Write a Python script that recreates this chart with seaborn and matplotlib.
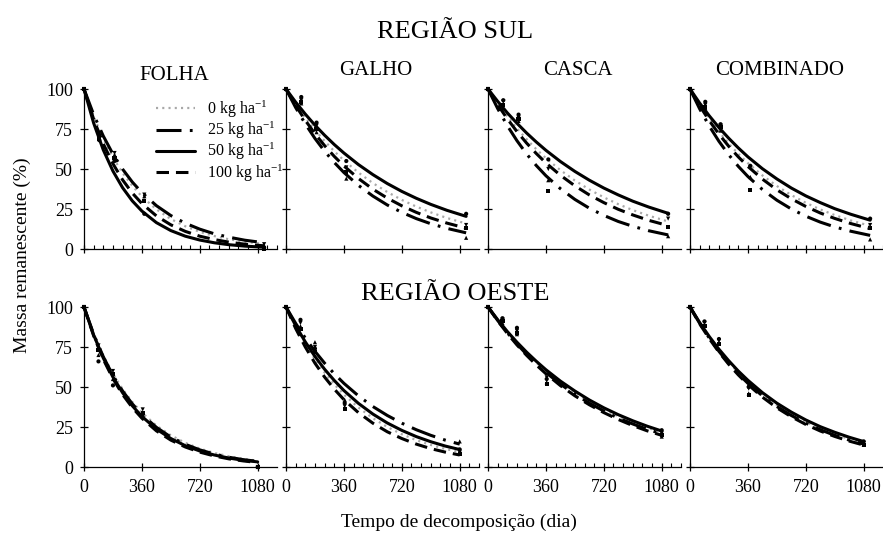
import numpy as np
import pandas as pd
import matplotlib
matplotlib.use("Agg")
import matplotlib.pyplot as plt
import matplotlib.transforms as mtransforms
from matplotlib.lines import Line2D
from matplotlib.ticker import MultipleLocator
import seaborn as sns

# ---------------- data ----------------
DOSES = ["0", "25", "50", "100"]
DOSE_LABELS = ["0 kg ha$^{-1}$", "25 kg ha$^{-1}$", "50 kg ha$^{-1}$", "100 kg ha$^{-1}$"]
COMPONENTS = ["FOLHA", "GALHO", "CASCA", "COMBINADO"]
REGIONS = ["REGIÃO SUL", "REGIÃO OESTE"]
X_TICKS = [0, 360, 720, 1080]
Y_TICKS = [0, 25, 50, 75, 100]

FIT_T_SUL = [0, 60, 120, 180, 240, 300, 360, 450, 540, 630, 720, 810, 900, 1000, 1120]
FIT_T_OESTE = [0, 60, 120, 180, 240, 300, 360, 450, 540, 630, 720, 810, 900, 990, 1080]
OBS_T_SUL = [0, 95, 190, 375, 1120]
OBS_T_OESTE = [0, 90, 180, 365, 1080]

# fitted curves, rows = 0, 25, 50, 100 kg/ha
SUL_FOLHA_FIT = [
    [100, 83.0, 68.9, 57.2, 47.5, 39.5, 32.8, 24.8, 18.7, 14.2, 10.7, 8.1, 6.1, 4.5, 3.1],
    [100, 84.0, 70.6, 59.3, 49.9, 41.9, 35.2, 27.1, 20.9, 16.1, 12.4, 9.5, 7.4, 5.5, 3.9],
    [100, 78.7, 61.9, 48.7, 38.3, 30.1, 23.7, 16.5, 11.5, 8.0, 5.6, 3.9, 2.7, 1.8, 1.1],
    [100, 81.1, 65.7, 53.3, 43.2, 35.0, 28.4, 20.7, 15.1, 11.0, 8.0, 5.9, 4.3, 3.0, 2.0],
]
SUL_GALHO_FIT = [
    [100, 90.6, 82.1, 74.4, 67.5, 61.1, 55.4, 47.8, 41.2, 35.6, 30.7, 26.5, 22.9, 19.4, 15.9],
    [100, 88.4, 78.2, 69.1, 61.1, 54.1, 47.8, 39.8, 33.1, 27.5, 22.9, 19.0, 15.8, 12.9, 10.1],
    [100, 91.8, 84.3, 77.4, 71.1, 65.3, 60.0, 52.8, 46.5, 40.9, 36.0, 31.7, 27.9, 24.2, 20.4],
    [100, 89.7, 80.4, 72.1, 64.6, 57.9, 51.9, 44.1, 37.4, 31.8, 27.0, 22.9, 19.4, 16.2, 13.0],
]
SUL_CASCA_FIT = [
    [100, 91.0, 82.8, 75.4, 68.6, 62.4, 56.8, 49.3, 42.8, 37.2, 32.3, 28.0, 24.3, 20.8, 17.2],
    [100, 87.8, 77.1, 67.7, 59.4, 52.2, 45.8, 37.7, 31.0, 25.5, 21.0, 17.2, 14.2, 11.4, 8.8],
    [100, 92.3, 85.1, 78.6, 72.5, 66.9, 61.7, 54.7, 48.5, 43.0, 38.1, 33.8, 29.9, 26.2, 22.3],
    [100, 90.2, 81.4, 73.4, 66.2, 59.7, 53.8, 46.1, 39.5, 33.8, 29.0, 24.8, 21.3, 17.9, 14.6],
]
SUL_COMB_FIT = [
    [100, 90.1, 81.3, 73.3, 66.0, 59.5, 53.7, 46.0, 39.4, 33.7, 28.9, 24.7, 21.2, 17.8, 14.5],
    [100, 87.6, 76.8, 67.3, 59.0, 51.7, 45.3, 37.2, 30.5, 25.0, 20.5, 16.8, 13.8, 11.1, 8.5],
    [100, 91.2, 83.2, 75.9, 69.3, 63.2, 57.6, 50.2, 43.8, 38.1, 33.2, 29.0, 25.2, 21.7, 18.0],
    [100, 89.5, 80.2, 71.8, 64.3, 57.6, 51.6, 43.7, 37.0, 31.4, 26.6, 22.5, 19.1, 15.9, 12.7],
]
OESTE_FOLHA_FIT = [
    [100, 83.5, 69.8, 58.3, 48.7, 40.7, 34.0, 25.9, 19.8, 15.1, 11.5, 8.8, 6.7, 5.1, 3.9],
    [100, 83.0, 68.9, 57.2, 47.5, 39.5, 32.8, 24.8, 18.7, 14.2, 10.7, 8.1, 6.1, 4.6, 3.5],
    [100, 82.5, 68.1, 56.2, 46.4, 38.3, 31.6, 23.7, 17.8, 13.3, 10.0, 7.5, 5.6, 4.2, 3.2],
    [100, 82.0, 67.3, 55.2, 45.3, 37.2, 30.5, 22.6, 16.8, 12.5, 9.3, 6.9, 5.1, 3.8, 2.8],
]
OESTE_GALHO_FIT = [
    [100, 87.6, 76.8, 67.3, 59.0, 51.7, 45.3, 37.2, 30.5, 25.0, 20.5, 16.8, 13.8, 11.3, 9.3],
    [100, 89.8, 80.6, 72.3, 64.9, 58.3, 52.3, 44.5, 37.8, 32.2, 27.4, 23.3, 19.8, 16.8, 14.3],
    [100, 88.4, 78.2, 69.1, 61.1, 54.1, 47.8, 39.8, 33.1, 27.5, 22.9, 19.0, 15.8, 13.1, 10.9],
    [100, 86.6, 75.0, 64.9, 56.2, 48.7, 42.1, 34.0, 27.4, 22.0, 17.8, 14.3, 11.5, 9.3, 7.5],
]
OESTE_CASCA_FIT = [
    [100, 91.8, 84.3, 77.4, 71.1, 65.3, 60.0, 52.8, 46.5, 40.9, 36.0, 31.7, 27.9, 24.5, 21.6],
    [100, 91.6, 83.9, 76.9, 70.4, 64.5, 59.1, 51.8, 45.5, 39.9, 35.0, 30.6, 26.9, 23.6, 20.7],
    [100, 92.1, 84.7, 78.0, 71.8, 66.1, 60.8, 53.7, 47.5, 41.9, 37.0, 32.7, 28.9, 25.5, 22.5],
    [100, 91.4, 83.5, 76.3, 69.8, 63.8, 58.3, 50.9, 44.5, 38.9, 34.0, 29.7, 25.9, 22.6, 19.8],
]
OESTE_COMB_FIT = [
    [100, 90.0, 81.0, 72.8, 65.5, 59.0, 53.1, 45.3, 38.7, 33.0, 28.2, 24.0, 20.5, 17.5, 14.9],
    [100, 89.8, 80.6, 72.3, 64.9, 58.3, 52.3, 44.5, 37.8, 32.2, 27.4, 23.3, 19.8, 16.8, 14.3],
    [100, 90.3, 81.5, 73.6, 66.5, 60.0, 54.2, 46.5, 39.9, 34.3, 29.4, 25.2, 21.7, 18.6, 15.9],
    [100, 89.5, 80.2, 71.8, 64.3, 57.6, 51.6, 43.7, 37.0, 31.4, 26.6, 22.5, 19.1, 16.2, 13.7],
]

# observed points, rows = 0, 25, 50, 100 kg/ha
SUL_FOLHA_OBS = [[100, 70, 60, 34, 3], [100, 72, 59, 33, 2], [100, 68, 55, 22, 1], [100, 69, 57, 30, 0]]
SUL_GALHO_OBS = [[100, 93, 77, 51, 15], [100, 91, 73, 44, 7], [100, 95, 79, 55, 22], [100, 92, 75, 48, 13]]
SUL_CASCA_OBS = [[100, 92, 82, 50, 19], [100, 88, 80, 43, 8], [100, 93, 84, 56, 22], [100, 90, 81, 36, 14]]
SUL_COMB_OBS = [[100, 90, 77, 51, 15], [100, 88, 74, 45, 6], [100, 92, 78, 52, 19], [100, 89, 76, 37, 13]]
OESTE_FOLHA_OBS = [[100, 76, 60, 36, 0], [100, 70, 55, 33, 0], [100, 66, 51, 31, 0], [100, 73, 58, 34, 0]]
OESTE_GALHO_OBS = [[100, 90, 75, 38, 9], [100, 88, 78, 42, 16], [100, 92, 74, 40, 11], [100, 86, 72, 36, 8]]
OESTE_CASCA_OBS = [[100, 92, 85, 56, 21], [100, 90, 83, 53, 19], [100, 93, 87, 55, 23], [100, 91, 84, 52, 20]]
OESTE_COMB_OBS = [[100, 90, 79, 49, 15], [100, 89, 78, 46, 14], [100, 91, 80, 50, 16], [100, 88, 77, 45, 14]]

FITS = [[SUL_FOLHA_FIT, SUL_GALHO_FIT, SUL_CASCA_FIT, SUL_COMB_FIT],
        [OESTE_FOLHA_FIT, OESTE_GALHO_FIT, OESTE_CASCA_FIT, OESTE_COMB_FIT]]
OBS = [[SUL_FOLHA_OBS, SUL_GALHO_OBS, SUL_CASCA_OBS, SUL_COMB_OBS],
       [OESTE_FOLHA_OBS, OESTE_GALHO_OBS, OESTE_CASCA_OBS, OESTE_COMB_OBS]]
FIT_T = [FIT_T_SUL, FIT_T_OESTE]
OBS_T = [OBS_T_SUL, OBS_T_OESTE]

# ---------------- style ----------------
PALETTE = {"0": "#a8a8a8", "25": "black", "50": "black", "100": "black"}
DASHES = {"0": (1.5, 3.0), "25": (18, 6, 2, 6), "50": "", "100": (9, 5)}
WIDTHS = {"0": 1.6, "25": 2.2, "50": 2.2, "100": 2.2}
MARKERS = {"0": "v", "25": "^", "50": "o", "100": "s"}
MINOR_PANELS = {(0, 0), (0, 3), (1, 1), (1, 2)}

sns.set_theme(style="ticks")
plt.rcParams.update({
    "font.family": ["Liberation Serif", "DejaVu Serif"],
    "mathtext.fontset": "custom",
    "mathtext.rm": "Liberation Serif",
    "mathtext.it": "Liberation Serif:italic",
    "mathtext.bf": "Liberation Serif:bold",
    "lines.scale_dashes": False,
    "axes.linewidth": 0.9,
    "axes.edgecolor": "black",
    "xtick.color": "black",
    "ytick.color": "black",
    "text.color": "black",
})

FW, FH = 883, 538
fig = plt.figure(figsize=(FW / 100, FH / 100), dpi=100)
fig.patch.set_facecolor("white")

LEFTS = [84, 286, 488, 690]
ZERO_Y = [249, 467]
AX_W, AX_H = 193, 160
TITLE_BASE = [80, 75, 75, 75]

for r in range(2):
    for c in range(4):
        ax = fig.add_axes([LEFTS[c] / FW, 1 - ZERO_Y[r] / FH, AX_W / FW, AX_H / FH])
        ax.set_facecolor("none")
        t_fit = FIT_T[r]
        fit = FITS[r][c]
        fit_df = pd.DataFrame({
            "t": np.tile(t_fit, len(DOSES)),
            "mass": np.concatenate([np.asarray(v, float) for v in fit]),
            "dose": np.repeat(DOSES, len(t_fit)),
        })
        t_obs = OBS_T[r]
        obs = OBS[r][c]
        obs_df = pd.DataFrame({
            "t": np.tile(t_obs, len(DOSES)),
            "mass": np.concatenate([np.asarray(v, float) for v in obs]),
            "dose": np.repeat(DOSES, len(t_obs)),
        })
        sns.scatterplot(data=obs_df, x="t", y="mass", style="dose", style_order=DOSES,
                        markers=MARKERS, color="black", s=9, linewidth=0,
                        legend=False, ax=ax, clip_on=False, zorder=3)
        sns.lineplot(data=fit_df, x="t", y="mass", hue="dose", style="dose", size="dose",
                     hue_order=DOSES, style_order=DOSES, size_order=DOSES,
                     palette=PALETTE, dashes=DASHES, sizes=WIDTHS,
                     estimator=None, sort=False, legend=False, ax=ax, clip_on=False)
        ax.set_xlim(0, 1200)
        ax.set_ylim(0, 100)
        ax.set_xticks(X_TICKS)
        ax.set_yticks(Y_TICKS)
        ax.set_xlabel("")
        ax.set_ylabel("")
        ax.spines["top"].set_visible(False)
        ax.spines["right"].set_visible(False)
        ax.tick_params(axis="both", which="major", direction="inout", length=6,
                       width=0.9, labelsize=13, bottom=True, left=True)
        ax.tick_params(axis="y", pad=5.0, labelleft=(c == 0))
        ax.tick_params(axis="x", pad=6.0, labelbottom=(r == 1))
        if (r, c) in MINOR_PANELS:
            ax.xaxis.set_minor_locator(MultipleLocator(60))
            ax.tick_params(axis="x", which="minor", direction="in", length=3,
                           width=0.8, bottom=True)
        if r == 0:
            trans = mtransforms.blended_transform_factory(ax.transData, fig.transFigure)
            ax.text(560, 1 - TITLE_BASE[c] / FH, COMPONENTS[c], transform=trans,
                    ha="center", va="baseline", fontsize=15)
        if r == 0 and c == 0:
            handles = []
            for d in DOSES:
                if DASHES[d] == "":
                    h = Line2D([0], [0], color=PALETTE[d], lw=WIDTHS[d], linestyle="-")
                else:
                    h = Line2D([0], [0], color=PALETTE[d], lw=WIDTHS[d], dashes=DASHES[d])
                handles.append(h)
            ax.legend(handles, DOSE_LABELS, loc="upper left", bbox_to_anchor=(0.375, 0.94),
                      frameon=False, fontsize=11.5, handlelength=2.4, handletextpad=0.75,
                      labelspacing=0.0, borderpad=0, borderaxespad=0)

fig.text(455 / FW, 1 - 38 / FH, REGIONS[0], ha="center", va="baseline", fontsize=19)
fig.text(455 / FW, 1 - 300 / FH, REGIONS[1], ha="center", va="baseline", fontsize=19)
fig.text(22 / FW, 1 - 255 / FH, "Massa remanescente (%)", rotation=90,
         ha="center", va="center", fontsize=14)
fig.text(459 / FW, 1 - 527 / FH, "Tempo de decomposição (dia)",
         ha="center", va="baseline", fontsize=14)

fig.savefig("out.png", dpi=100, facecolor="white")
